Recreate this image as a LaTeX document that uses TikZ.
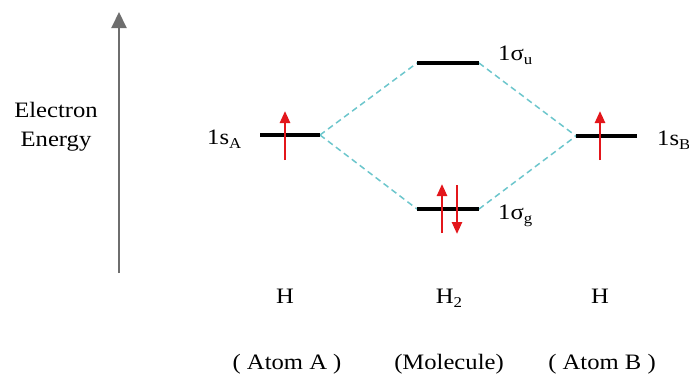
\documentclass[tikz,border=0pt]{standalone}
\usepackage{fontspec}
\setmainfont{Liberation Serif}
\usetikzlibrary{arrows.meta}
\definecolor{cy}{HTML}{6CC6CC}
\definecolor{rd}{HTML}{E3161B}
\definecolor{axg}{HTML}{6E6E6E}
\newcommand{\lowsub}[1]{\raisebox{-4pt}{\fontsize{15}{15}\selectfont #1}}
\newcommand{\wide}[1]{\scalebox{1.12}[1]{#1}}
\begin{document}
\begin{tikzpicture}[x=1pt,y=-1pt,
  lvl/.style={line width=4pt},
  spin/.style={draw=rd,line width=2.5pt,-{Triangle[width=10pt,length=12pt]}},
  corr/.style={draw=cy,line width=1.5pt,dash pattern=on 6pt off 4pt},
  txt/.style={font=\fontsize{22}{26}\selectfont,inner sep=0pt},
]
\useasboundingbox (0,0) rectangle (689,376);

% energy axis
\coordinate (axb) at (119,273);
\coordinate (axt) at (119,12);
\draw[axg,line width=2pt,-{Triangle[width=15pt,length=16pt]}] (axb) -- (axt);
\node[txt,anchor=base] (el1) at (56,117.5) {\wide{Electron}};
\node[txt,anchor=base] (el2) at (56,146) {\wide{Energy}};

% levels
\coordinate (a1) at (260,135); \coordinate (a2) at (320,135);
\coordinate (u1) at (417,63);  \coordinate (u2) at (479,63);
\coordinate (g1) at (417,209); \coordinate (g2) at (479,209);
\coordinate (b1) at (576,136); \coordinate (b2) at (637,136);

\draw[corr] (a2) -- (u1);
\draw[corr] (a2) -- (g1);
\draw[corr] (u2) -- (b1);
\draw[corr] (g2) -- (b1);

\draw[lvl] (a1) -- (a2);
\draw[lvl] (u1) -- (u2);
\draw[lvl] (g1) -- (g2);
\draw[lvl] (b1) -- (b2);

% labels of levels
\node[txt,anchor=base west] (lA) at (207,144) {\wide{1s\lowsub{A}}};
\node[txt,anchor=base west] (lB) at (657,145) {\wide{1s\lowsub{B}}};
\node[txt,anchor=base west] (lu) at (498,60) {\wide{1σ\lowsub{u}}};
\node[txt,anchor=base west] (lg) at (498,219) {\wide{1σ\lowsub{g}}};

% electrons
\coordinate (sa0) at (285,160); \coordinate (sa1) at (285,111);
\coordinate (sb0) at (600,160); \coordinate (sb1) at (600,111);
\coordinate (p0) at (442,233); \coordinate (p1) at (442,184);
\coordinate (q0) at (457,185); \coordinate (q1) at (457,234);
\draw[spin] (sa0) -- (sa1);
\draw[spin] (sb0) -- (sb1);
\draw[spin] (p0) -- (p1);
\draw[spin] (q0) -- (q1);

% species
\node[txt,anchor=base] (hA) at (285,303) {\wide{H}};
\node[txt,anchor=base] (h2) at (449,303) {\wide{H\lowsub{2}}};
\node[txt,anchor=base] (hB) at (600,303) {\wide{H}};
\node[txt,anchor=base] (tA) at (287,369) {\wide{( Atom A )}};
\node[txt,anchor=base] (tM) at (449,369) {\wide{(Molecule)}};
\node[txt,anchor=base] (tB) at (602,369) {\wide{( Atom B )}};
\end{tikzpicture}
\end{document}
